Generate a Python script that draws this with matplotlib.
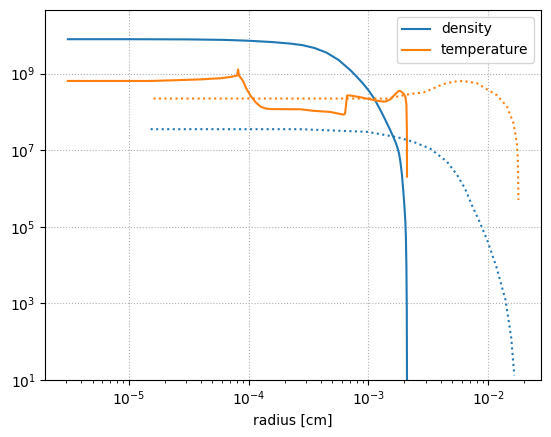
import numpy as np
import matplotlib
matplotlib.use('Agg')
from matplotlib import pyplot as plt

# solid lines - profile 1 (values are log10)
logr_dens = [-5.508, -5.0, -4.5, -4.2, -4.0, -3.8, -3.65, -3.55, -3.45, -3.35,
             -3.25, -3.15, -3.10, -3.05, -3.0, -2.95, -2.90, -2.86, -2.817, -2.79,
             -2.77, -2.758, -2.745, -2.733, -2.72, -2.708, -2.70, -2.692, -2.687,
             -2.683, -2.680, -2.678]
log_dens = [9.90, 9.90, 9.895, 9.882, 9.86, 9.825, 9.785, 9.745, 9.67, 9.55,
            9.36, 9.09, 8.93, 8.76, 8.57, 8.34, 8.05, 7.80, 7.52, 7.33,
            7.18, 7.07, 6.92, 6.70, 6.35, 5.90, 5.55, 5.15, 4.70,
            3.95, 2.90, 0.90]

logr_temp = [-5.508, -4.817, -4.6, -4.4, -4.3, -4.233, -4.16, -4.108, -4.095, -4.0875,
             -4.08, -4.067, -4.045, -4.025, -3.983, -3.94, -3.90, -3.858, -3.817,
             -3.567, -3.458, -3.317, -3.208, -3.195, -3.178, -3.15, -3.06, -2.983,
             -2.92, -2.875, -2.85, -2.817, -2.78, -2.755, -2.742, -2.725, -2.705,
             -2.692, -2.683, -2.679, -2.678]
log_temp = [8.81, 8.81, 8.83, 8.85, 8.87, 8.88, 8.91, 8.94, 8.95, 9.11,
            8.95, 8.90, 8.80, 8.65, 8.42, 8.25, 8.14, 8.09, 8.075,
            8.07, 8.03, 8.00, 7.93, 7.95, 8.43, 8.43, 8.38, 8.33,
            8.29, 8.27, 8.28, 8.33, 8.45, 8.53, 8.55, 8.53, 8.47,
            8.40, 8.20, 7.50, 6.31]

# dotted lines - profile 2
logr_dens2 = [-4.817, -3.567, -3.008, -2.758, -2.625, -2.483, -2.344, -2.261,
              -2.194, -2.133, -2.075, -2.006, -1.931, -1.856, -1.808, -1.783]
log_dens2 = [7.55, 7.55, 7.48, 7.34, 7.22, 7.04, 6.70, 6.36,
             6.00, 5.54, 5.15, 4.63, 3.94, 3.09, 2.09, 1.12]

logr_temp2 = [-4.794, -2.842, -2.65, -2.539, -2.456, -2.373, -2.289, -2.208,
              -2.094, -2.011, -1.928, -1.844, -1.789, -1.761, -1.753, -1.748]
log_temp2 = [8.35, 8.35, 8.47, 8.51, 8.62, 8.73, 8.79, 8.81,
             8.75, 8.59, 8.44, 8.14, 7.70, 7.18, 6.74, 5.70]

fig = plt.figure(figsize=(5.51, 4.37), dpi=100)
ax = fig.add_subplot(111)
fig.subplots_adjust(left=45.3/551, right=541/551, top=1-10/437, bottom=1-380/437)

ax.loglog(10**np.array(logr_dens), 10**np.array(log_dens), color='C0', label='density')
ax.loglog(10**np.array(logr_temp), 10**np.array(log_temp), color='C1', label='temperature')
ax.loglog(10**np.array(logr_dens2), 10**np.array(log_dens2), color='C0', linestyle=':')
ax.loglog(10**np.array(logr_temp2), 10**np.array(log_temp2), color='C1', linestyle=':')

ax.set_ylim(10, 4.6e10)
ax.set_xlabel('radius [cm]')
ax.grid(linestyle=':')
ax.legend(loc='upper right')

plt.savefig('out.png', dpi=100)
